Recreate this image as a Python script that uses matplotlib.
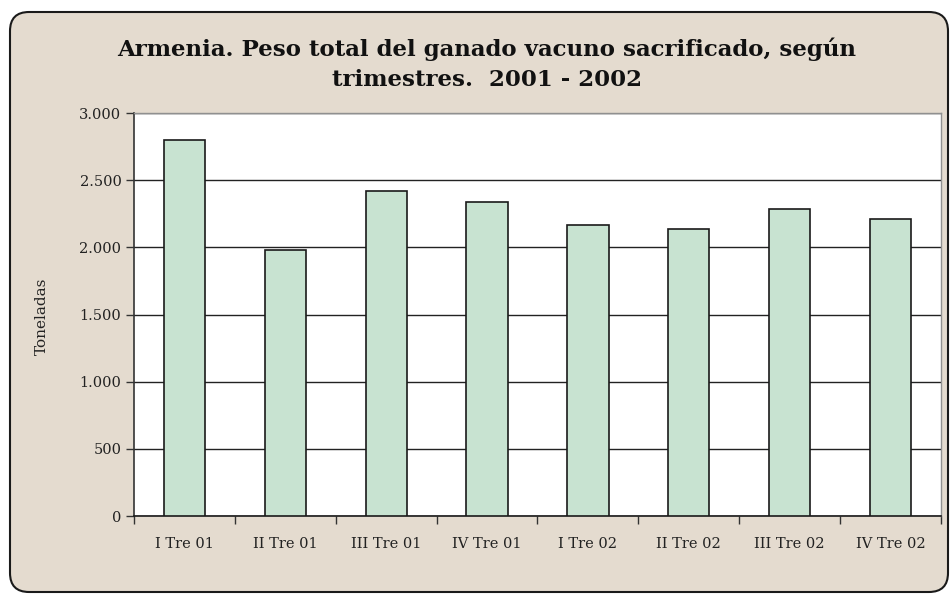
import matplotlib
matplotlib.use("Agg")
import matplotlib.pyplot as plt
from matplotlib.patches import FancyBboxPatch

categories = ["I Tre 01", "II Tre 01", "III Tre 01", "IV Tre 01",
              "I Tre 02", "II Tre 02", "III Tre 02", "IV Tre 02"]
values = [2800, 1980, 2418, 2334, 2163, 2134, 2288, 2209]
yticks = [0, 500, 1000, 1500, 2000, 2500, 3000]
ytick_labels = ["0", "500", "1.000", "1.500", "2.000", "2.500", "3.000"]
title = "Armenia. Peso total del ganado vacuno sacrificado, según\ntrimestres.  2001 - 2002"
ylabel = "Toneladas"

W, H = 953, 594
fig = plt.figure(figsize=(W / 100, H / 100), dpi=100)
fig.patch.set_facecolor("white")

# rounded frame
frame = FancyBboxPatch((10 / W, 2 / H), (938 / W), (580 / H),
                       boxstyle="round,pad=0,rounding_size=0.02",
                       transform=fig.transFigure, facecolor="#e4dbcf",
                       edgecolor="#1a1a1a", linewidth=1.5, zorder=-5,
                       mutation_aspect=W / H)
fig.patches.append(frame)

tick_font = dict(family="DejaVu Serif", fontsize=10.5, color="#222222")

ax = fig.add_axes([134 / W, (H - 516) / H, (941 - 134) / W, (516 - 113) / H])
ax.set_zorder(2)
ax.set_facecolor("white")
x = list(range(len(categories)))
ax.bar(x, values, width=0.41, color="#c8e3d1", edgecolor="#1a1a1a",
       linewidth=1.2, zorder=3)
ax.set_xlim(-0.5, len(categories) - 0.5)
ax.set_ylim(0, 3000)
ax.set_yticks(yticks)
ax.set_yticklabels(ytick_labels, **tick_font)
ax.yaxis.grid(True, color="#222222", linewidth=1.0, zorder=1)
ax.set_axisbelow(True)
ax.set_xticks(x)
ax.set_xticklabels(categories, **tick_font)
ax.tick_params(axis="x", length=0, pad=15)
ax.set_xticks([i - 0.5 for i in range(len(categories) + 1)], minor=True)
ax.tick_params(axis="x", which="minor", length=6, width=1, color="#333333", direction="out")
ax.tick_params(axis="y", length=6, width=1, color="#333333", direction="out", pad=3)
for s in ["top", "right"]:
    ax.spines[s].set_color("#909090")
    ax.spines[s].set_linewidth(1.0)
ax.spines["left"].set_color("#333333")
ax.spines["left"].set_linewidth(1.2)
ax.spines["bottom"].set_color("#1a1a1a")
ax.spines["bottom"].set_linewidth(1.2)

fig.text(487 / W, 1 - 64 / H, title, ha="center", va="center",
         family="DejaVu Serif", fontweight="bold", fontsize=16.5,
         linespacing=1.45, color="#111111", zorder=3)
fig.text(42 / W, 1 - 316 / H, ylabel, rotation=90, ha="center", va="center",
         family="DejaVu Serif", fontsize=11, color="#222222", zorder=3)

fig.savefig("out.png", dpi=100)
